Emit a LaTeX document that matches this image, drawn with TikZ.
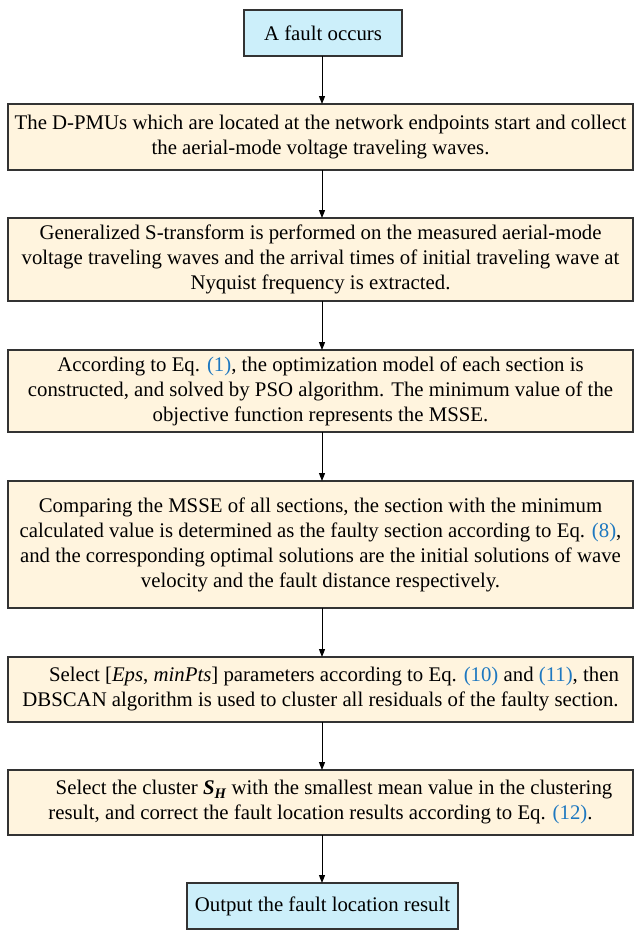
\documentclass[tikz,border=0pt]{standalone}
\usepackage{fontspec}
\setmainfont{Liberation Serif}
\usetikzlibrary{arrows.meta}
\definecolor{boxfill}{HTML}{FFF4DE}
\definecolor{bluefill}{HTML}{CCEFFA}
\definecolor{boxline}{HTML}{333333}
\definecolor{linkblue}{HTML}{1E78C0}
\newcommand{\lk}[1]{\textcolor{linkblue}{#1}}
\begin{document}
\begin{tikzpicture}[x=1pt,y=-1pt,
  every node/.style={font=\fontsize{20.8}{25}\selectfont, inner sep=0pt, outer sep=0pt},
  stepbox/.style={draw=boxline, line width=1.2pt, fill=boxfill, align=center, minimum width=625pt},
  endbox/.style={draw=boxline, line width=1.2pt, fill=bluefill, align=center, minimum height=46pt},
  arr/.style={line width=1pt, -{Triangle[length=8pt,width=6pt]}}
]
\useasboundingbox (0,0) rectangle (635,930);
\node[endbox, minimum width=158pt] (b1) at (323,33) {A fault occurs};
\node[stepbox, minimum height=66pt] (b2) at (320.5,137) {The D-PMUs which are located at the network endpoints start and collect\\the aerial-mode voltage traveling waves.};
\node[stepbox, minimum height=83pt] (b3) at (320.5,259.5) {Generalized S-transform is performed on the measured aerial-mode\\voltage traveling waves and the arrival times of initial traveling wave at\\Nyquist frequency is extracted.};
\node[stepbox, minimum height=82pt] (b4) at (320.5,391) {According to Eq. \lk{(1)}, the optimization model of each section is\\constructed, and solved by PSO algorithm. The minimum value of the\\objective function represents the MSSE.};
\node[stepbox, minimum height=127pt] (b5) at (320.5,544.5) {Comparing the MSSE of all sections, the section with the minimum\\calculated value is determined as the faulty section according to Eq. \lk{(8)},\\and the corresponding optimal solutions are the initial solutions of wave\\velocity and the fault distance respectively.};
\node[stepbox, minimum height=65pt] (b6) at (320.5,689.5) {\hspace*{27pt}Select [\textit{Eps}, \textit{minPts}] parameters according to Eq. \lk{(10)} and \lk{(11)}, then\\DBSCAN algorithm is used to cluster all residuals of the faulty section.};
\node[stepbox, minimum height=65pt] (b7) at (320.5,802.5) {\hspace*{27pt}Select the cluster \textbf{\textit{S\textsubscript{H}}} with the smallest mean value in the clustering\\result, and correct the fault location results according to Eq. \lk{(12)}.};
\node[endbox, minimum width=271pt] (b8) at (322.5,906) {Output the fault location result};
\foreach \a/\b in {b1/b2,b2/b3,b3/b4,b4/b5,b5/b6,b6/b7,b7/b8}{
  \draw[arr] (322,0 |- \a.south) -- (322,0 |- \b.north);
}
\end{tikzpicture}
\end{document}
